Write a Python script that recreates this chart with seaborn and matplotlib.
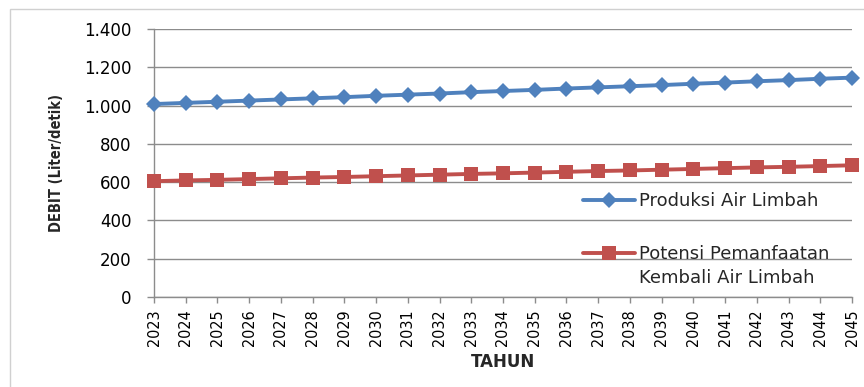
import matplotlib
matplotlib.use("Agg")
import matplotlib.pyplot as plt
from matplotlib.lines import Line2D
from matplotlib.patches import Rectangle
from matplotlib.ticker import FuncFormatter
import seaborn as sns

years = list(range(2023, 2046))
produksi = [1008, 1014, 1020, 1026, 1032, 1038, 1044, 1051, 1057, 1063, 1070, 1076,
            1082, 1089, 1095, 1101, 1107, 1114, 1120, 1127, 1133, 1140, 1146]
potensi = [605, 609, 612, 616, 620, 624, 627, 631, 635, 639, 643, 646,
           650, 654, 658, 661, 665, 669, 673, 677, 680, 684, 688]
label_produksi = "Produksi Air Limbah"
label_potensi = ["Potensi Pemanfaatan", "Kembali Air Limbah"]
y_ticks = [0, 200, 400, 600, 800, 1000, 1200, 1400]

BLUE = "#4F81BD"
RED = "#C0504D"
GRID = "#8C8C8C"

sns.set_theme(style="white")
plt.rcParams['font.family'] = ['DejaVu Sans']

W, H = 864, 387
fig = plt.figure(figsize=(W / 100, H / 100), dpi=100)
fig.patch.set_facecolor("white")
fig.patches.append(Rectangle((10 / W, 1 - 395 / H), 870 / W, 386 / H, transform=fig.transFigure,
                             fill=False, edgecolor="#D0D0D0", linewidth=1.0, zorder=0))

ax = fig.add_axes([154 / W, 1 - 297 / H, (852 - 154) / W, (297 - 29) / H])
ax.set_facecolor("none")

sns.lineplot(x=years, y=produksi, ax=ax, color=BLUE, linewidth=2.8, marker="D",
             markersize=8, markeredgewidth=0, clip_on=False, zorder=4)
sns.lineplot(x=years, y=potensi, ax=ax, color=RED, linewidth=2.8, marker="s",
             markersize=10.5, markeredgewidth=0, clip_on=False, zorder=4)

ax.set_xlim(years[0], years[-1])
ax.set_ylim(0, 1400)
ax.set_yticks(y_ticks)
ax.yaxis.set_major_formatter(FuncFormatter(lambda v, p: f"{int(v):,}".replace(",", ".")))
ax.set_xticks(years)
ax.set_xticklabels([str(y) for y in years], rotation=90, fontsize=11.5,
                   fontstretch="condensed")
ax.grid(axis="y", color=GRID, linewidth=1.0)
ax.set_axisbelow(True)
for s in ["top", "right"]:
    ax.spines[s].set_visible(False)
for s in ["left", "bottom"]:
    ax.spines[s].set_color(GRID)
    ax.spines[s].set_linewidth(1.0)
ax.tick_params(axis="y", which="both", left=True, length=5, width=1, color=GRID,
               pad=11, labelsize=12, labelcolor="black")
ax.tick_params(axis="x", which="both", bottom=True, length=4, width=1, color=GRID,
               pad=5, labelcolor="black")

fig.text(57 / W, 1 - 163 / H, "DEBIT (Liter/detik)", rotation=90, ha="center", va="center",
         fontsize=10.5, fontweight="bold", fontstretch="condensed")
fig.text(503 / W, 1 - 362 / H, "TAHUN", ha="center", va="center",
         fontsize=12, fontweight="bold")

lines = ax.get_lines()
h_blue, h_red = lines[0], lines[1]
leg1 = ax.legend([h_blue], [label_produksi], loc="center left",
                 bbox_to_anchor=(583 / W, 1 - 201 / H), bbox_transform=fig.transFigure,
                 frameon=False, borderpad=0, borderaxespad=0, handlelength=2.9,
                 handletextpad=0.2, fontsize=13)
ax.add_artist(leg1)
dummy = Line2D([], [], linestyle="none")
leg2 = ax.legend([h_red, dummy], label_potensi, loc="center left",
                 bbox_to_anchor=(583 / W, 1 - 266 / H), bbox_transform=fig.transFigure,
                 frameon=False, borderpad=0, borderaxespad=0, handlelength=2.9,
                 handletextpad=0.2, labelspacing=0.3, fontsize=13)

fig.savefig("out.png", dpi=100, facecolor="white")
